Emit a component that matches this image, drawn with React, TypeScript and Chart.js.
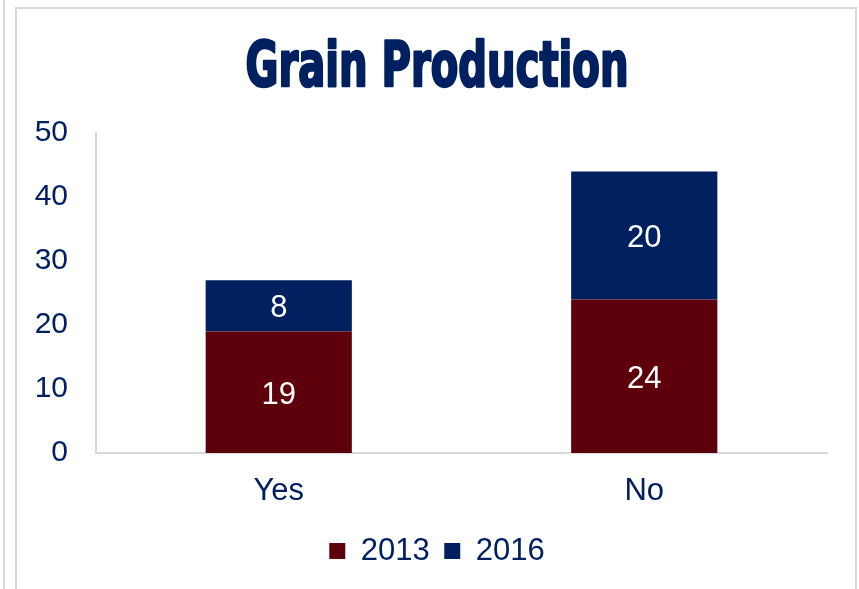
import React, { useEffect, useRef } from "react";
import { Chart, registerables } from "chart.js";

Chart.register(...registerables);

const categories = ["Yes", "No"];
const series2013 = [19, 24];
const series2016 = [8, 20];
const yTicks = [0, 10, 20, 30, 40, 50];
const titleText = "Grain Production";

const NAVY = "#002060";
const MAROON = "#5e000c";
const AXIS = "#d9d9d9";
const FONT = '"Liberation Sans", Arial, sans-serif';

const titlePlugin = {
  id: "customTitle",
  afterDraw(chart: any) {
    const ctx = chart.ctx;
    ctx.save();
    ctx.font = 'bold 62px "DejaVu Sans Condensed", "DejaVu Sans", sans-serif';
    const w = ctx.measureText(titleText).width;
    const sx = 383 / w;
    ctx.translate(420, 77);
    ctx.scale(sx, 1);
    ctx.fillStyle = NAVY;
    ctx.strokeStyle = NAVY;
    ctx.lineWidth = 2.5;
    ctx.lineJoin = "round";
    ctx.textAlign = "center";
    ctx.textBaseline = "alphabetic";
    ctx.fillText(titleText, 0, 0);
    ctx.strokeText(titleText, 0, 0);
    ctx.restore();
  },
};

const legendShift = {
  id: "legendShift",
  afterLayout(chart: any) {
    if (chart.legend) {
      chart.legend.left += 15;
      chart.legend.right += 15;
    }
  },
};

const valueLabels = {
  id: "valueLabels",
  afterDatasetsDraw(chart: any) {
    const ctx = chart.ctx;
    ctx.save();
    ctx.font = `31px ${FONT}`;
    ctx.fillStyle = "#ffffff";
    ctx.textAlign = "center";
    ctx.textBaseline = "middle";
    chart.data.datasets.forEach((ds: any, di: number) => {
      const meta = chart.getDatasetMeta(di);
      meta.data.forEach((el: any, i: number) => {
        const y = (el.y + el.base) / 2;
        ctx.fillText(String(ds.data[i]), el.x, y + 3);
      });
    });
    ctx.restore();
  },
};

export default function App() {
  const ref = useRef<HTMLCanvasElement>(null);
  useEffect(() => {
    if (!ref.current) return;
    const chart = new Chart(ref.current, {
      type: "bar",
      data: {
        labels: categories,
        datasets: [
          {
            label: "2013",
            data: series2013,
            backgroundColor: MAROON,
            barPercentage: 0.4,
            categoryPercentage: 1,
          },
          {
            label: "2016",
            data: series2016,
            backgroundColor: NAVY,
            barPercentage: 0.4,
            categoryPercentage: 1,
          },
        ],
      },
      options: {
        responsive: false,
        animation: false,
        devicePixelRatio: 1,
        layout: { padding: { top: 124, right: 27, bottom: 12.5, left: 0 } },
        plugins: {
          title: { display: false },
          tooltip: { enabled: false },
          legend: {
            position: "bottom",
            labels: {
              boxWidth: 16,
              boxHeight: 16,
              padding: 14.5,
              color: NAVY,
              font: { size: 31, family: FONT },
            },
          },
        },
        scales: {
          x: {
            stacked: true,
            grid: { display: false, drawTicks: false },
            border: { color: AXIS, width: 2 },
            ticks: { color: NAVY, padding: 20, font: { size: 31, family: FONT } },
            afterFit(scale: any) {
              scale.height = 68;
            },
          },
          y: {
            stacked: true,
            min: 0,
            max: 50,
            grid: { display: false, drawTicks: false },
            border: { color: AXIS, width: 2 },
            afterBuildTicks(scale: any) {
              scale.ticks = yTicks.map((v) => ({ value: v }));
            },
            ticks: { color: NAVY, padding: 28, font: { size: 30, family: FONT } },
            afterFit(scale: any) {
              scale.width = 79;
            },
          },
        },
      },
      plugins: [titlePlugin, valueLabels, legendShift],
    });
    return () => chart.destroy();
  }, []);

  return (
    <div style={{ position: "fixed", left: 0, top: 0, width: 859, height: 589, background: "#fff", overflow: "hidden" }}>
      <div style={{ position: "absolute", left: 3, top: 0, width: 2, height: 589, background: AXIS }} />
      <div
        style={{
          position: "absolute",
          left: 15,
          top: 7,
          width: 842,
          height: 620,
          border: `2px solid ${AXIS}`,
          boxSizing: "border-box",
        }}
      >
        <canvas ref={ref} width={837} height={580} style={{ display: "block" }} />
      </div>
    </div>
  );
}
